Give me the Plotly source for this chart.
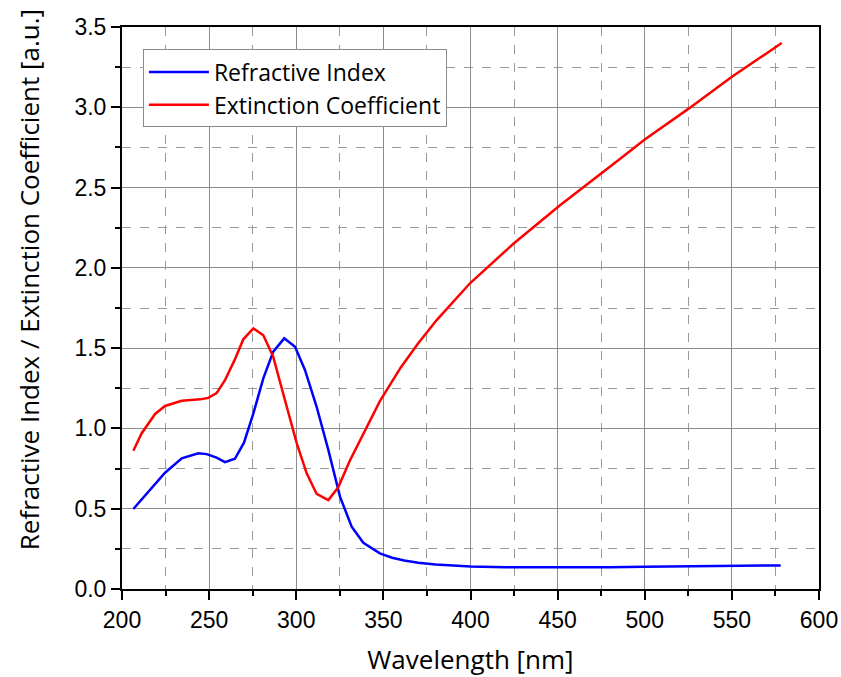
import plotly.graph_objects as go

# Refractive index (blue)
n_wl = [206.5, 216, 224.7, 234.3, 243.8, 248.6, 254.3, 259.1, 264.8, 270, 275.4, 281.1,
        286.8, 293.1, 299.3, 305, 311.7, 318.4, 325.1, 331.8, 338.5, 348, 355, 362,
        370, 380, 390, 400, 420, 440, 460, 480, 500, 520, 540, 560, 578]
n_val = [0.498, 0.616, 0.724, 0.814, 0.845, 0.840, 0.818, 0.790, 0.811, 0.911, 1.094, 1.312,
         1.478, 1.561, 1.509, 1.364, 1.135, 0.866, 0.575, 0.388, 0.288, 0.222, 0.195, 0.178,
         0.163, 0.152, 0.145, 0.140, 0.136, 0.135, 0.135, 0.136, 0.138, 0.140, 0.142, 0.145, 0.147]

# Extinction coefficient (red)
k_wl = [206.5, 211.3, 219, 224.7, 234.3, 244.8, 249.5, 254.3, 259.1, 264.8, 269.6, 275.4,
        281.1, 286.8, 293.5, 300.3, 306, 311.7, 318.4, 324.1, 330.8, 340.4, 348, 360,
        370, 380.6, 399.7, 424.6, 451.4, 484.8, 500, 525, 550, 578.6]
k_val = [0.861, 0.97, 1.09, 1.14, 1.172, 1.181, 1.19, 1.22, 1.30, 1.43, 1.555, 1.623,
         1.58, 1.446, 1.177, 0.907, 0.72, 0.592, 0.554, 0.633, 0.80, 1.01, 1.17, 1.38,
         1.53, 1.675, 1.904, 2.15, 2.39, 2.67, 2.80, 2.99, 3.19, 3.40]

x_ticks = [200, 250, 300, 350, 400, 450, 500, 550, 600]
y_ticks = [0.0, 0.5, 1.0, 1.5, 2.0, 2.5, 3.0, 3.5]

x_title = "Wavelength [nm]"
y_title = "Refractive Index / Extinction Coefficient [a.u.]"

FONT = "Open Sans"
TICKFONT = "Liberation Sans"

fig = go.Figure()
fig.add_trace(go.Scatter(x=n_wl, y=n_val, mode="lines", name="Refractive Index",
                         line=dict(color="#0000ff", width=2.5)))
fig.add_trace(go.Scatter(x=k_wl, y=k_val, mode="lines", name="Extinction Coefficient",
                         line=dict(color="#ff0000", width=2.5)))

axis_common = dict(
    showline=True, linecolor="black", linewidth=2, mirror=True,
    ticks="outside", ticklen=9, tickwidth=2, tickcolor="black",
    showgrid=True, gridcolor="#8c8c8c", gridwidth=1,
    zeroline=False, automargin=False,
    tickfont=dict(family=TICKFONT, size=23, color="black"),
)

fig.update_xaxes(
    range=[200, 600], tickvals=x_ticks,
    title=dict(text=x_title, font=dict(family=FONT, size=26, color="black"), standoff=24),
    minor=dict(dtick=25, tick0=200, ticks="outside", ticklen=5, tickwidth=1.5, tickcolor="black",
               showgrid=True, gridcolor="#9a9a9a", griddash="dash", gridwidth=1),
    **axis_common,
)
fig.update_yaxes(
    range=[0, 3.5], tickvals=y_ticks, tickformat=".1f",
    minor=dict(dtick=0.25, tick0=0, ticks="outside", ticklen=5, tickwidth=1.5, tickcolor="black",
               showgrid=True, gridcolor="#9a9a9a", griddash="dash", gridwidth=1),
    **axis_common,
)

fig.add_annotation(
    text=y_title, textangle=-90, showarrow=False,
    xref="paper", yref="paper", x=-0.133, y=0.55,
    xanchor="center", yanchor="middle",
    font=dict(family=FONT, size=26, color="black"),
)

fig.update_layout(
    width=841, height=677,
    margin=dict(l=122, r=22, t=27, b=88),
    plot_bgcolor="white", paper_bgcolor="white",
    showlegend=True,
    legend=dict(x=0.03, y=0.96, xanchor="left", yanchor="top",
                bgcolor="white", bordercolor="#8c8c8c", borderwidth=1,
                font=dict(family=FONT, size=23, color="black"),
                itemwidth=60, tracegroupgap=0),
)

fig.write_html("out.html")
